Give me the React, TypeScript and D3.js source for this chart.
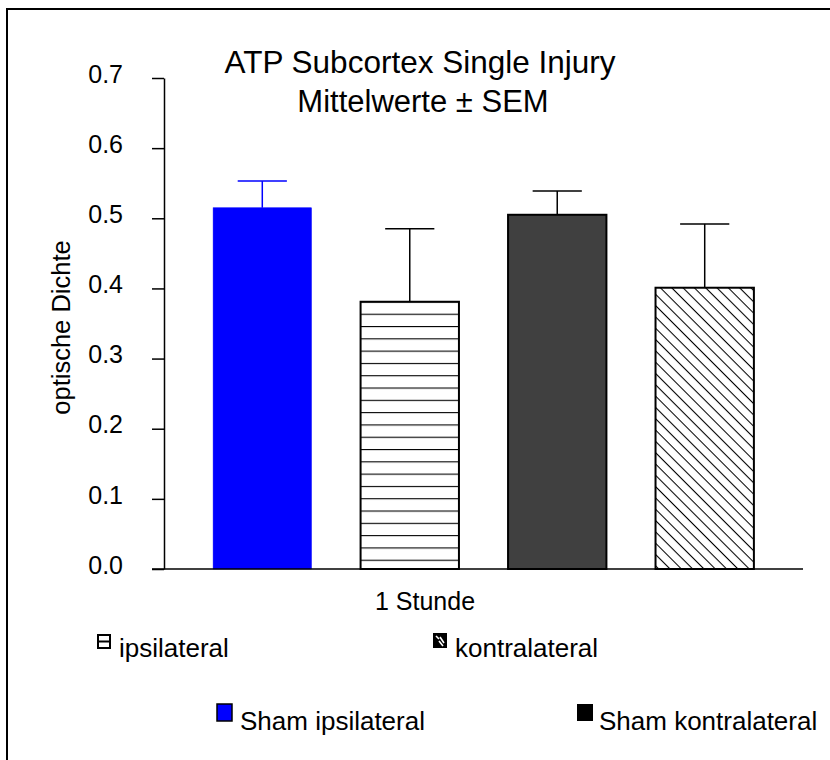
import React, { useRef, useEffect } from 'react';
import { select, scaleBand, scaleLinear, axisLeft, format } from 'd3';

const categories = ['Sham ipsilateral', 'ipsilateral', 'Sham kontralateral', 'kontralateral'];
const means = [0.515, 0.381, 0.505, 0.401];
const sems = [0.038, 0.104, 0.034, 0.091];
const yTicks = [0, 0.1, 0.2, 0.3, 0.4, 0.5, 0.6, 0.7];

const FONT = '"Liberation Sans", Arial, Helvetica, sans-serif';

const App = () => {
  const axisRef = useRef<SVGGElement>(null);

  const x = scaleBand<string>()
    .domain(categories)
    .range([164, 803])
    .padding(0.333);

  const y = scaleLinear()
    .domain([0, 0.7])
    .range([569, 78]);

  useEffect(() => {
    const g = select(axisRef.current);
    g.call(
      axisLeft(y)
        .tickValues(yTicks)
        .tickSize(12)
        .tickSizeOuter(0)
        .tickPadding(29)
        .tickFormat(format('.1f')) as any
    );
    g.select('.domain').attr('stroke', '#000').attr('stroke-width', 1.5);
    g.selectAll('.tick line').attr('stroke', '#000').attr('stroke-width', 1.5);
    g.selectAll('.tick text')
      .attr('font-family', FONT)
      .attr('font-size', 25)
      .attr('fill', '#000')
      .attr('dy', '0.17em');
  }, []);

  const fills = ['#0000ff', 'url(#hlines)', '#404040', 'url(#diag)'];
  const strokes = ['#0000ff', '#000', '#000', '#000'];
  const errColor = ['#0000ff', '#000', '#000', '#000'];
  const bw = x.bandwidth();

  return (
    <div style={{ position: 'absolute', left: 0, top: 0 }}>
      <svg width={830} height={760} style={{ display: 'block', background: '#fff' }}>
        <defs>
          <pattern id="hlines" patternUnits="userSpaceOnUse" width={20} height={12.3} y={569 - 9.3}>
            <rect width={20} height={12.3} fill="#fff" />
            <line x1={0} x2={20} y1={0.5} y2={0.5} stroke="#000" strokeWidth={1.2} />
          </pattern>
          <pattern id="diag" patternUnits="userSpaceOnUse" width={20} height={8} patternTransform="rotate(45)">
            <rect width={20} height={8} fill="#fff" />
            <line x1={0} x2={20} y1={0.5} y2={0.5} stroke="#000" strokeWidth={1.1} />
          </pattern>
        </defs>

        {/* frame */}
        <rect x={7} y={9} width={900} height={900} fill="none" stroke="#000" strokeWidth={2} />

        {/* title */}
        <text x={420} y={73} textAnchor="middle" fontFamily={FONT} fontSize={31.5}>
          ATP Subcortex Single Injury
        </text>
        <text x={423} y={112} textAnchor="middle" fontFamily={FONT} fontSize={31}>
          Mittelwerte ± SEM
        </text>

        {/* bars */}
        {categories.map((c, i) => (
          <g key={c}>
            <line
              x1={x(c)! + bw / 2}
              x2={x(c)! + bw / 2}
              y1={y(means[i])}
              y2={y(means[i] + sems[i])}
              stroke={errColor[i]}
              strokeWidth={1.5}
            />
            <line
              x1={x(c)! + bw / 4}
              x2={x(c)! + (3 * bw) / 4}
              y1={y(means[i] + sems[i])}
              y2={y(means[i] + sems[i])}
              stroke={errColor[i]}
              strokeWidth={1.5}
            />
            <rect
              x={x(c)}
              y={y(means[i])}
              width={bw}
              height={y(0) - y(means[i])}
              fill={fills[i]}
              stroke={strokes[i]}
              strokeWidth={i === 0 ? 0.5 : 2}
            />
          </g>
        ))}

        {/* y axis */}
        <g ref={axisRef} transform="translate(164,0)" />
        <line x1={152} x2={803} y1={y(0)} y2={y(0)} stroke="#000" strokeWidth={1.5} />

        <text
          transform={`translate(70,${(y(0) + y(0.7)) / 2 + 4}) rotate(-90)`}
          textAnchor="middle"
          fontFamily={FONT}
          fontSize={25.5}
        >
          optische Dichte
        </text>

        <text x={425} y={610} textAnchor="middle" fontFamily={FONT} fontSize={25}>
          1 Stunde
        </text>

        {/* legend */}
        <g fontFamily={FONT} fontSize={26}>
          <rect x={98} y={635} width={12} height={13} fill="#fff" stroke="#000" strokeWidth={2} />
          <line x1={98} x2={110} y1={641.5} y2={641.5} stroke="#000" strokeWidth={2} />
          <text x={119} y={657}>ipsilateral</text>

          <rect x={433} y={633} width={14} height={15} fill="#000" />
          <path d="M436,636 L439,639 M440,637 L444,643 M439,641 L443,646" stroke="#fff" strokeWidth={1.6} />
          <text x={455} y={657}>kontralateral</text>

          <rect x={217} y={704} width={15} height={17} fill="#0000ff" stroke="#000" strokeWidth={1.5} />
          <text x={240} y={730}>Sham ipsilateral</text>

          <rect x={577} y={704} width={16} height={17} fill="#000" />
          <text x={599} y={730}>Sham kontralateral</text>
        </g>
      </svg>
    </div>
  );
};

export default App;
